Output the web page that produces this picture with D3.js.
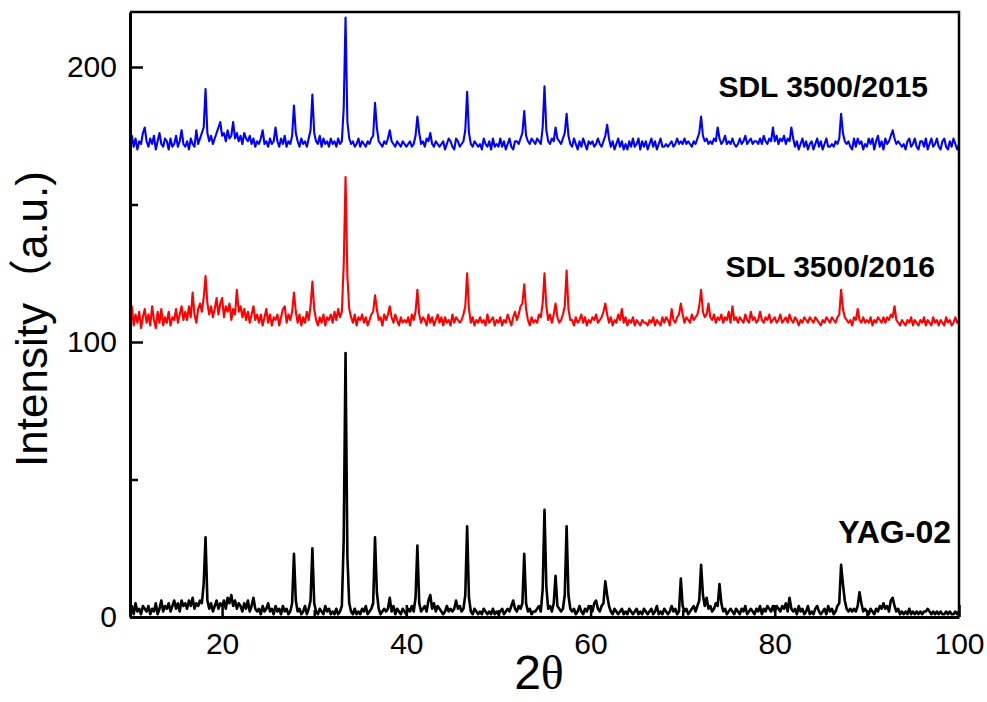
<!DOCTYPE html>
<html>
<head>
<meta charset="utf-8">
<script src="https://cdn.jsdelivr.net/npm/d3@7/dist/d3.min.js"></script>
<style>
  body { margin: 0; background: #fff; }
  svg { display: block; }
  text { font-family: Arial, "Liberation Sans", "Noto Sans CJK SC", sans-serif; }
</style>
</head>
<body>
<svg id="chart" width="987" height="702"></svg>
<script>
// XRD scan grid: 2θ from 10° to 100° in 0.2° steps
const angleStart = 10;
const angleStep = 0.2;

// Intensity, YAG-02 (one row = 2°)
const yag02 = [
  2,4,1,5,2,3,1,4,3,2,
  4,1,3,2,5,1,3,6,2,4,
  3,5,2,4,6,3,5,2,6,4,
  5,3,6,4,7,3,5,4,6,5,
  12,29,6,3,5,2,4,6,3,5,
  4,6,3,7,5,8,4,6,3,5,
  4,2,5,3,6,2,4,7,3,2,
  3,1,4,2,3,5,2,3,1,4,
  2,3,1,4,2,3,1,2,5,23,
  6,2,3,1,2,4,1,3,6,25,
  5,2,1,3,2,1,4,2,3,1,
  2,1,3,1,2,4,28,96,22,5,
  2,1,3,1,2,1,3,2,4,1,
  2,3,5,29,9,3,1,2,3,2,
  3,7,2,4,1,3,2,1,3,2,
  1,3,2,4,2,7,26,5,2,3,
  4,2,6,8,3,5,2,4,3,2,
  1,2,4,2,3,2,3,6,3,4,
  2,3,8,33,7,2,1,3,2,1,
  2,1,3,2,1,2,1,3,1,2,
  1,2,3,1,2,3,2,4,6,3,
  2,4,3,5,23,5,2,3,1,2,
  2,3,4,2,10,39,11,3,4,2,
  5,15,4,3,2,3,8,33,8,3,
  2,3,1,2,4,2,1,3,2,4,
  3,2,5,6,3,2,4,5,13,8,
  4,2,1,3,2,1,2,3,1,2,
  1,3,2,1,2,3,1,2,1,3,
  2,1,2,3,1,2,4,1,2,1,
  3,2,1,2,4,2,3,1,2,14,
  4,2,3,1,2,3,4,2,4,6,
  19,8,4,7,3,4,2,3,5,4,
  12,5,2,3,1,2,3,2,1,3,
  2,1,3,2,4,1,2,3,2,1,
  3,2,4,1,3,2,4,3,2,4,
  2,4,3,2,4,3,5,2,7,3,
  2,3,1,4,2,3,1,2,4,1,
  2,1,3,4,2,1,2,3,1,4,
  2,3,1,2,4,5,19,12,6,3,
  2,3,2,3,2,4,9,5,2,3,
  2,1,3,2,1,3,2,4,3,5,
  3,4,2,6,7,4,2,3,1,2,
  1,2,1,3,1,2,1,2,1,2,
  1,2,2,3,2,1,2,1,2,1,
  2,1,1,2,1,2,1,1,2,1,
  2
];

// Intensity, SDL 3500/2016 (offset trace)
const sdl2016 = [
  109,113,106,110,107,111,105,109,112,107,
  110,106,113,108,105,111,107,112,106,109,
  107,111,106,109,108,112,107,110,113,108,
  111,108,113,109,118,110,107,112,114,111,
  116,124,114,110,113,109,112,116,110,114,
  116,109,113,111,114,108,112,110,119,111,
  113,109,112,108,111,107,110,113,108,110,
  107,110,106,109,112,107,110,106,109,108,
  110,106,109,112,113,107,110,108,111,118,
  111,107,110,106,109,107,111,108,113,122,
  112,108,106,109,107,110,106,109,108,110,
  107,111,108,112,109,111,128,160,124,112,
  109,107,110,106,109,108,110,107,109,106,
  108,110,111,117,112,108,109,106,110,108,
  110,113,109,107,110,108,106,109,107,108,
  107,109,106,110,108,111,119,110,107,109,
  108,106,110,107,109,106,108,110,107,109,
  106,109,107,108,106,110,107,109,108,107,
  108,110,113,125,112,107,109,106,108,107,
  109,107,108,106,110,107,108,109,106,108,
  107,109,106,108,107,110,108,106,109,111,
  108,110,113,114,121,112,108,106,109,107,
  108,107,110,109,114,125,113,108,110,107,
  110,114,109,107,108,110,113,126,112,108,
  108,106,109,107,108,110,107,109,106,108,
  107,109,108,110,107,108,109,111,114,110,
  107,109,106,108,107,110,108,112,107,109,
  106,108,107,109,106,108,107,106,108,107,
  107,106,108,107,109,106,108,107,106,109,
  107,109,108,106,112,108,107,109,110,114,
  110,107,109,108,107,110,108,109,110,113,
  119,111,109,110,114,109,108,110,107,109,
  108,110,107,109,108,111,107,113,108,109,
  107,109,108,107,110,108,107,111,108,109,
  107,108,111,108,107,109,108,110,107,108,
  109,107,108,110,107,108,109,107,110,108,
  107,109,108,106,108,107,109,108,107,109,
  108,107,109,108,107,106,108,107,109,108,
  107,109,108,107,109,110,119,112,109,108,
  107,108,106,109,108,112,108,107,109,107,
  108,107,109,106,108,107,109,108,107,109,
  107,109,108,110,109,113,108,107,106,108,
  107,106,108,107,109,106,108,107,106,108,
  107,109,106,108,107,106,109,107,108,106,
  108,107,106,109,107,108,106,107,109,107,
  108
];

// Intensity, SDL 3500/2015 (offset trace)
const sdl2015 = [
  172,175,171,174,170,173,172,176,178,173,
  171,174,172,175,170,173,176,172,171,174,
  173,170,174,171,172,175,171,173,177,172,
  171,173,170,174,172,171,177,172,174,176,
  178,192,176,173,175,172,174,176,178,180,
  175,176,173,177,174,175,180,174,176,173,
  175,172,176,174,173,175,172,174,171,173,
  172,174,177,172,173,171,174,172,173,178,
  173,171,174,172,175,171,173,172,175,186,
  176,173,171,174,172,173,171,174,177,190,
  176,173,172,175,171,174,172,173,171,174,
  172,173,171,174,172,173,185,218,180,174,
  172,173,171,172,174,171,173,172,171,173,
  172,174,175,187,178,173,172,171,173,172,
  174,177,173,172,171,173,172,171,173,172,
  171,172,173,171,172,175,182,176,172,173,
  171,174,173,176,172,171,173,172,171,172,
  173,170,172,174,173,171,170,174,173,171,
  172,173,177,191,176,172,171,173,172,171,
  172,170,174,172,171,173,170,174,171,172,
  171,174,171,173,170,172,174,171,170,173,
  173,172,174,176,184,175,173,172,174,173,
  172,174,173,172,178,193,177,173,172,174,
  173,178,174,173,172,174,176,183,175,172,
  171,174,172,170,173,171,174,172,170,173,
  172,173,171,172,174,172,171,173,175,179,
  174,171,173,170,172,174,171,173,170,172,
  170,173,171,174,171,172,174,170,173,171,
  173,170,172,174,171,173,170,172,174,171,
  171,172,171,172,173,171,172,174,172,173,
  172,174,172,173,172,171,173,172,174,176,
  182,175,173,174,172,173,172,174,173,178,
  174,172,173,175,172,173,172,174,172,171,
  172,174,172,173,175,172,173,174,172,173,
  173,172,174,172,175,173,172,174,173,178,
  173,175,172,174,173,175,172,174,173,178,
  174,171,173,170,172,174,171,173,170,172,
  173,170,172,174,171,173,170,172,174,171,
  171,172,171,173,172,174,183,176,173,172,
  173,171,170,174,171,174,172,173,170,172,
  171,174,172,174,170,173,175,171,173,170,
  174,172,173,175,177,174,172,173,172,171,
  172,170,173,174,171,172,174,171,170,173,
  173,171,174,170,172,174,171,172,174,171,
  170,173,174,171,170,173,171,174,172,170,
  172
];

const seriesNames = ["SDL 3500/2015", "SDL 3500/2016", "YAG-02"];
const seriesColors = ["#0000ff", "#ff0000", "#000000"];

const xDomain = [10, 100];
const yDomain = [0, 220];
const xTicks = [20, 40, 60, 80, 100];
const xMinorTicks = [10, 30, 50, 70, 90];
const yTicks = [0, 100, 200];
const yMinorTicks = [50, 150];

const svg = d3.select("#chart");
const plot = { left: 130, right: 959, top: 12, bottom: 617 };

const x = d3.scaleLinear().domain(xDomain).range([plot.left, plot.right]);
const y = d3.scaleLinear().domain(yDomain).range([plot.bottom, plot.top]);

const twoTheta = d3.range(yag02.length).map(i => +(angleStart + i * angleStep).toFixed(1));

const line = d3.line()
  .x((d, i) => x(twoTheta[i]))
  .y(d => y(d));

// traces
const traces = [
  { name: seriesNames[2], color: seriesColors[2], values: yag02, width: 2.6 },
  { name: seriesNames[1], color: seriesColors[1], values: sdl2016, width: 2.1 },
  { name: seriesNames[0], color: seriesColors[0], values: sdl2015, width: 2.1 }
];

svg.append("g").selectAll("path")
  .data(traces)
  .join("path")
  .attr("d", d => line(d.values))
  .attr("fill", "none")
  .attr("stroke", d => d.color)
  .attr("stroke-width", d => d.width)
  .attr("stroke-linejoin", "round");

// frame: top and right edges
svg.append("path")
  .attr("d", `M${plot.left},${plot.top}H${plot.right}V${plot.bottom}`)
  .attr("fill", "none")
  .attr("stroke", "#000")
  .attr("stroke-width", 2.5);

// bottom axis
svg.append("g").attr("transform", `translate(0,${plot.bottom})`)
  .call(d3.axisBottom(x).tickValues(xTicks).tickSize(-12).tickSizeOuter(0).tickPadding(16));
svg.append("g").attr("transform", `translate(0,${plot.bottom})`)
  .call(d3.axisBottom(x).tickValues(xMinorTicks).tickSize(-7).tickSizeOuter(0).tickFormat(""))
  .call(g => g.select(".domain").remove());

// left axis
svg.append("g").attr("transform", `translate(${plot.left},0)`)
  .call(d3.axisLeft(y).tickValues(yTicks).tickSize(-13).tickSizeOuter(0).tickPadding(13));
svg.append("g").attr("transform", `translate(${plot.left},0)`)
  .call(d3.axisLeft(y).tickValues(yMinorTicks).tickSize(-8).tickSizeOuter(0).tickFormat(""))
  .call(g => g.select(".domain").remove());

svg.selectAll(".domain").attr("stroke", "#000").attr("stroke-width", 3);
svg.selectAll(".tick line").attr("stroke", "#000").attr("stroke-width", 2.5);
svg.selectAll(".tick text")
  .attr("fill", "#000")
  .style("font-size", "30px")
  .style("font-family", "Arial, 'Liberation Sans', sans-serif");

// series labels
const labels = [
  { text: seriesNames[0], x: 928, y: 97, size: 30 },
  { text: seriesNames[1], x: 935, y: 277, size: 30 },
  { text: seriesNames[2], x: 951, y: 543, size: 32 }
];
svg.append("g").selectAll("text")
  .data(labels)
  .join("text")
  .attr("x", d => d.x)
  .attr("y", d => d.y)
  .attr("text-anchor", "end")
  .style("font-size", d => d.size + "px")
  .style("font-weight", "bold")
  .text(d => d.text);

// axis titles
svg.append("text")
  .attr("transform", "translate(47,319) rotate(-90)")
  .attr("text-anchor", "middle")
  .style("font-size", "44px")
  .text("Intensity（a.u.)");

const xt = svg.append("text")
  .attr("x", 539)
  .attr("y", 689)
  .attr("text-anchor", "middle")
  .style("font-size", "48px");
xt.append("tspan").text("2");
xt.append("tspan").style("font-family", "'Liberation Serif', 'Times New Roman', serif").text("θ");
</script>
</body>
</html>
